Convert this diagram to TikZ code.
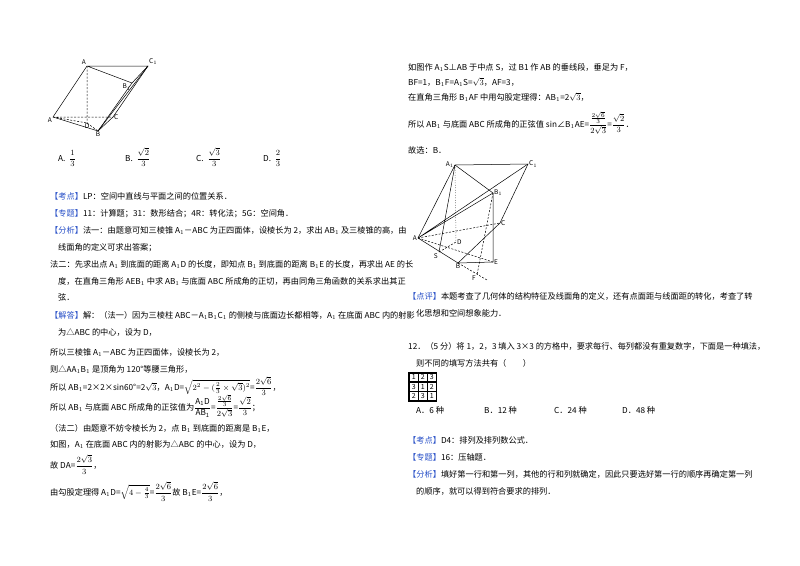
\documentclass[tikz,border=0pt]{standalone}
\usepackage{fontspec}
\setmainfont{Noto Sans CJK SC}
\usepackage{amsmath}
\definecolor{kb}{RGB}{40,80,200}
\newcommand{\tg}[1]{{\color{kb}【#1】}}
\begin{document}
\begin{tikzpicture}[x=1pt,y=-1pt,
  tx/.style={anchor=base west,inner sep=0pt,font=\fontsize{8.2}{9}\selectfont},
  lb/.style={font=\fontsize{6.5}{7}\selectfont\itshape,inner sep=1pt},
  ed/.style={line width=0.5pt},
  hd/.style={line width=0.5pt,dashed,dash pattern=on 2pt off 1.5pt}]
\useasboundingbox[fill=white] (0,0) rectangle (800,565);
% figure 1
\coordinate (A1) at (87,66); \coordinate (C1) at (148,66); \coordinate (B1) at (132,83);
\coordinate (A) at (53,117); \coordinate (C) at (113,117); \coordinate (B) at (98,131); \coordinate (D) at (87,123);
\draw[ed] (A)--(A1)--(C1)--(B1)--(A1); \draw[ed] (A)--(B)--(C1); \draw[ed] (B)--(C)--(C1); \draw[ed] (B1)--(B);
\draw[hd] (A)--(C) (A1)--(D) (A)--(D)--(B);
\node[lb,above left] at (A1) {A}; \node[lb,above right] at (C1) {C$_1$}; \node[lb,below left] at (B1) {B$_1$};
\node[lb,below left] at (A) {A}; \node[lb,right] at (C) {C}; \node[lb,below] at (B) {B}; \node[lb,below] at (D) {D};
\node[tx] (o1) at (58,161) {A.~~$\dfrac{1}{3}$};
\node[tx] (o2) at (125,161) {B.~~$\dfrac{\sqrt2}{3}$};
\node[tx] (o3) at (196,161) {C.~~$\dfrac{\sqrt3}{3}$};
\node[tx] (o4) at (263,161) {D.~~$\dfrac{2}{3}$};
% left text
\node[tx] (l1) at (50,199) {\tg{考点}LP：空间中直线与平面之间的位置关系．};
\node[tx] (l2) at (50,216) {\tg{专题}11：计算题；31：数形结合；4R：转化法；5G：空间角．};
\node[tx] (l3) at (50,233) {\tg{分析}法一：由题意可知三棱锥 A$_1$－ABC 为正四面体，设棱长为 2，求出 AB$_1$ 及三棱锥的高，由};
\node[tx] (l4) at (58,250) {线面角的定义可求出答案；};
\node[tx] (l5) at (50,267) {法二：先求出点 A$_1$ 到底面的距离 A$_1$D 的长度，即知点 B$_1$ 到底面的距离 B$_1$E 的长度，再求出 AE 的长};
\node[tx] (l6) at (58,284) {度，在直角三角形 AEB$_1$ 中求 AB$_1$ 与底面 ABC 所成角的正切，再由同角三角函数的关系求出其正};
\node[tx] (l7) at (58,300) {弦．};
\node[tx] (l8) at (50,318) {\tg{解答}解：（法一）因为三棱柱 ABC－A$_1$B$_1$C$_1$ 的侧棱与底面边长都相等，A$_1$ 在底面 ABC 内的射影};
\node[tx] (l9) at (58,335) {为△ABC 的中心，设为 D，};
\node[tx] (l10) at (50,355) {所以三棱锥 A$_1$－ABC 为正四面体，设棱长为 2，};
\node[tx] (l11) at (50,372) {则△AA$_1$B$_1$ 是顶角为 120°等腰三角形，};
\node[tx] (l12) at (50,390) {所以 AB$_1$=2×2×sin60°=2$\sqrt3$，A$_1$D=$\sqrt{2^2-(\tfrac23\times\sqrt3)^2}$=$\dfrac{2\sqrt6}{3}$，};
\node[tx] (l13) at (50,410) {所以 AB$_1$ 与底面 ABC 所成角的正弦值为$\dfrac{\mathrm{A_1D}}{\mathrm{AB_1}}$=$\dfrac{\frac{2\sqrt6}{3}}{2\sqrt3}$=$\dfrac{\sqrt2}{3}$；};
\node[tx] (l14) at (50,431) {（法二）由题意不妨令棱长为 2，点 B$_1$ 到底面的距离是 B$_1$E，};
\node[tx] (l15) at (50,447) {如图，A$_1$ 在底面 ABC 内的射影为△ABC 的中心，设为 D，};
\node[tx] (l16) at (50,468) {故 DA=$\dfrac{2\sqrt3}{3}$，};
\node[tx] (l17) at (50,495) {由勾股定理得 A$_1$D=$\sqrt{4-\tfrac43}$=$\dfrac{2\sqrt6}{3}$故 B$_1$E=$\dfrac{2\sqrt6}{3}$，};
% right text
\node[tx] (r1) at (408,70) {如图作 A$_1$S⊥AB 于中点 S，过 B1 作 AB 的垂线段，垂足为 F，};
\node[tx] (r2) at (408,85) {BF=1，B$_1$F=A$_1$S=$\sqrt3$，AF=3，};
\node[tx] (r3) at (408,100) {在直角三角形 B$_1$AF 中用勾股定理得：AB$_1$=2$\sqrt3$，};
\node[tx] (r4) at (408,127) {所以 AB$_1$ 与底面 ABC 所成角的正弦值 sin∠B$_1$AE=$\dfrac{\frac{2\sqrt6}{3}}{2\sqrt3}$=$\dfrac{\sqrt2}{3}$．};
\node[tx] (r5) at (408,153) {故选：B．};
% figure 2
\coordinate (P1) at (455,165); \coordinate (Q1) at (528,164); \coordinate (R1) at (493,193);
\coordinate (Q) at (500,223); \coordinate (P) at (418,238); \coordinate (D2) at (456,242);
\coordinate (S) at (439,252); \coordinate (R) at (458,263); \coordinate (E) at (493,262);
\coordinate (F) at (477,275); \coordinate (X) at (487,280);
\draw[ed] (P)--(P1)--(Q1)--(Q)--(R)--(P); \draw[ed] (P1)--(R1)--(E)--(R);
\draw[ed] (P)--(Q1) (P)--(R1) (P1)--(S);
\draw[hd] (P)--(Q) (P)--(E) (R1)--(F) (R)--(X) (S)--(D2);
\draw[ed,dotted] (P1)--(D2);
\node[lb,left] at (P1) {A$_1$}; \node[lb,right] at (Q1) {C$_1$}; \node[lb,right] at (R1) {B$_1$};
\node[lb,right] at (Q) {C}; \node[lb,left] at (P) {A}; \node[lb,right] at (D2) {D};
\node[lb,below left] at (S) {S}; \node[lb,below] at (R) {B}; \node[lb,right] at (E) {E}; \node[lb,below left] at (F) {F};
\node[tx] (r6) at (408,299) {\tg{点评}本题考查了几何体的结构特征及线面角的定义，还有点面距与线面距的转化，考查了转};
\node[tx] (r7) at (416,316) {化思想和空间想象能力．};
\node[tx] (r8) at (408,349) {12．（5 分）将 1，2，3 填入 3×3 的方格中，要求每行、每列都没有重复数字，下面是一种填法，};
\node[tx] (r9) at (416,366) {则不同的填写方法共有（　　）};
\draw[line width=0.6pt] (408.5,372)rectangle(436.5,401);
\foreach \r [count=\i from 0] in {{1,2,3},{3,1,2},{2,3,1}}{
 \foreach \v [count=\j from 0] in \r {
  \draw[line width=0.5pt] (409.5+9*\j,373+9.3*\i) rectangle ++(8.5,8.5);
  \node[inner sep=0pt,font=\fontsize{7}{7}\selectfont] at (413.7+9*\j,377.3+9.3*\i) {\v};}}
\node[tx] (s1) at (416,413) {A．6 种};
\node[tx] (s2) at (484,413) {B．12 种};
\node[tx] (s3) at (554,413) {C．24 种};
\node[tx] (s4) at (622,413) {D．48 种};
\node[tx] (r10) at (408,443) {\tg{考点}D4：排列及排列数公式．};
\node[tx] (r11) at (408,460) {\tg{专题}16：压轴题．};
\node[tx] (r12) at (408,477) {\tg{分析}填好第一行和第一列，其他的行和列就确定，因此只要选好第一行的顺序再确定第一列};
\node[tx] (r13) at (416,494) {的顺序，就可以得到符合要求的排列．};
\end{tikzpicture}
\end{document}
